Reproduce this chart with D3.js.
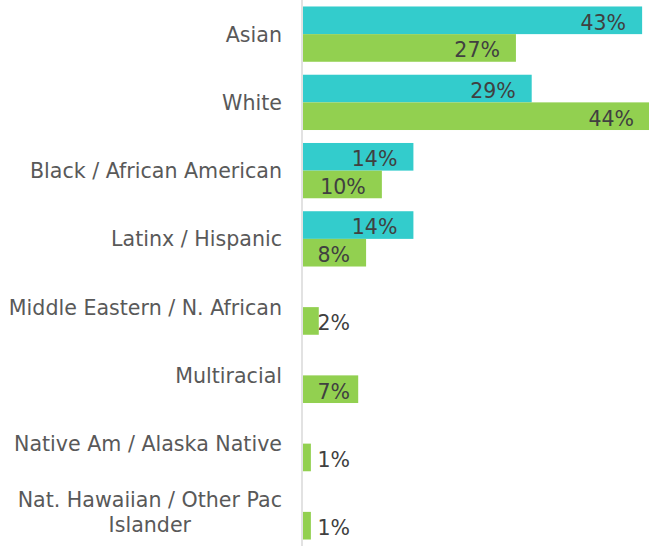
<!DOCTYPE html>
<html><head><meta charset="utf-8">
<script src="https://cdn.jsdelivr.net/npm/d3@7"></script>
<style>body{margin:0;background:#fff}svg{display:block}</style>
</head><body>
<svg id="c" width="649" height="546"></svg>
<script>
const categories = ["Asian","White","Black / African American","Latinx / Hispanic","Middle Eastern / N. African","Multiracial","Native Am / Alaska Native","Nat. Hawaiian / Other Pac Islander"];
const categoryLines = [["Asian"],["White"],["Black / African American"],["Latinx / Hispanic"],["Middle Eastern / N. African"],["Multiracial"],["Native Am / Alaska Native"],["Nat. Hawaiian / Other Pac","Islander"]];
const seriesNames = ["Series A","Series B"];
const seriesA = [43,29,14,14,null,null,null,null];
const seriesB = [27,44,10,8,2,7,1,1];
const colors = ["#33CCCC","#92D050"];

const W=649,H=546, x0=303;
const svg=d3.select("#c");
const font="'DejaVu Sans', sans-serif";
const y=d3.scaleBand().domain(categories).range([0,H]).paddingInner(0.19).paddingOuter(0.095);
const ySub=d3.scaleBand().domain([0,1]).range([0,y.bandwidth()]);
const x=d3.scaleLinear().domain([0,44]).range([x0,x0+347]);

const data=[];
categories.forEach((c,i)=>{[seriesA,seriesB].forEach((s,j)=>{ if(s[i]!=null) data.push({c,j,v:s[i]}); });});

svg.append("g").selectAll("rect").data(data).join("rect")
  .attr("x",x(0)).attr("y",d=>y(d.c)+ySub(d.j))
  .attr("width",d=>x(d.v)-x(0)).attr("height",ySub.bandwidth())
  .attr("fill",d=>colors[d.j]);

svg.append("g").selectAll("text").data(data).join("text")
  .attr("x",d=>Math.max(x(d.v)-16,x(0)+47))
  .attr("y",d=>y(d.c)+ySub(d.j)+ySub.bandwidth()/2+2)
  .attr("dy","0.36em").attr("text-anchor","end")
  .attr("font-family",font).attr("font-size",20.5).attr("fill","#404040")
  .text(d=>d.v+"%");

// axis line
const yAxis=d3.axisLeft(y).tickSize(0).tickFormat("");
const ga=svg.append("g").attr("transform",`translate(${x0-1},0)`).call(yAxis);
ga.select(".domain").attr("stroke","#d9d9d9").attr("stroke-width",1.5).attr("d",`M0,0V${H}`);

// category labels
const lg=svg.append("g").attr("font-family",font).attr("font-size",20.6).attr("fill","#595959");
categories.forEach((c,i)=>{
  const lines=categoryLines[i];
  const cy=y(c)+y.bandwidth()/2;
  const lh=25;
  const t0=lg.append("text").attr("x",282).attr("text-anchor","end").attr("dy","0.36em")
    .attr("y",cy-(lines.length-1)*lh/2).text(lines[0]);
  if(lines.length>1){
    const w=t0.node().getComputedTextLength();
    lg.append("text").attr("x",282-w/2).attr("text-anchor","middle").attr("dy","0.36em")
      .attr("y",cy-(lines.length-1)*lh/2+lh).text(lines[1]);
  }
});
</script>
</body></html>
